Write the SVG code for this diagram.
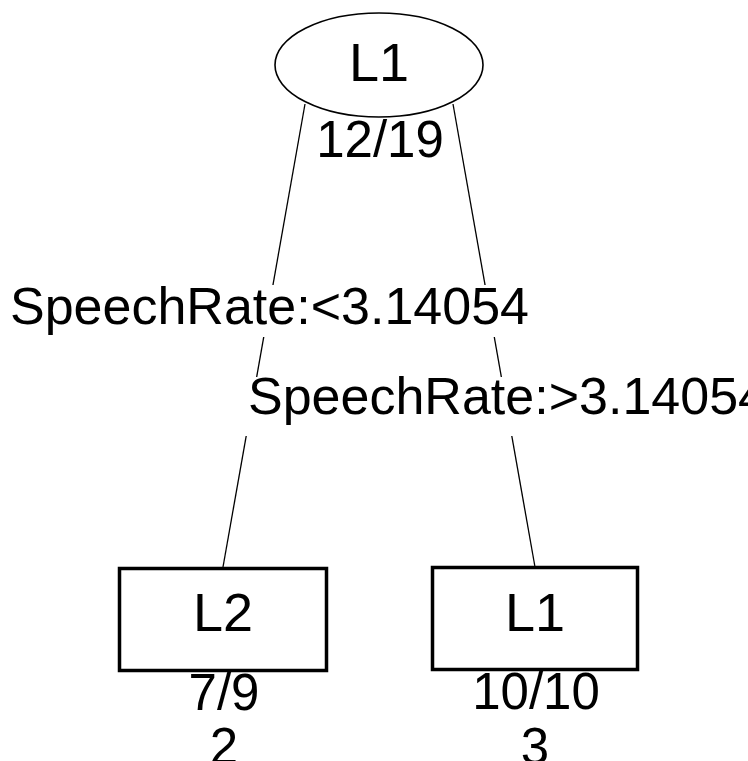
<svg xmlns="http://www.w3.org/2000/svg" width="748" height="761" viewBox="0 0 748 761">
<style>
text{font-family:"Liberation Sans",Arial,sans-serif;fill:#000}
.lbl{font-size:54px;text-anchor:middle}
.num{font-size:51px;text-anchor:middle}
.edge{font-size:52px}
.conn{stroke:#000;stroke-width:1.3;fill:none}
.box{fill:#fff;stroke:#000;stroke-width:3.5}
.bg{fill:#fff}
</style>
<rect width="748" height="761" fill="#fff"/>
<g id="connectors">
<line class="conn" x1="305" y1="104" x2="223" y2="567"/>
<line class="conn" x1="453" y1="104" x2="535" y2="567"/>
</g>
<g id="edge-labels">
<rect class="bg" x="6" y="285" width="528" height="52"/>
<text class="edge" x="10" y="324">SpeechRate:&lt;3.14054</text>
<rect class="bg" x="244" y="377" width="504" height="59"/>
<text class="edge" x="248" y="414">SpeechRate:&gt;3.14054</text>
</g>
<g id="node-root">
<ellipse cx="379" cy="65" rx="104" ry="52" fill="#fff" stroke="#000" stroke-width="1.6"/>
<text class="lbl" x="379" y="81">L1</text>
<text class="num" x="380" y="157">12/19</text>
</g>
<g id="node-left">
<rect class="box" x="119.5" y="568.5" width="207" height="102"/>
<text class="lbl" x="223" y="631">L2</text>
<text class="num" x="224" y="710">7/9</text>
<text class="num" x="224" y="764">2</text>
</g>
<g id="node-right">
<rect class="box" x="432.5" y="567.5" width="205" height="102"/>
<text class="lbl" x="535" y="631">L1</text>
<text class="num" x="536" y="709">10/10</text>
<text class="num" x="535" y="764">3</text>
</g>
</svg>
